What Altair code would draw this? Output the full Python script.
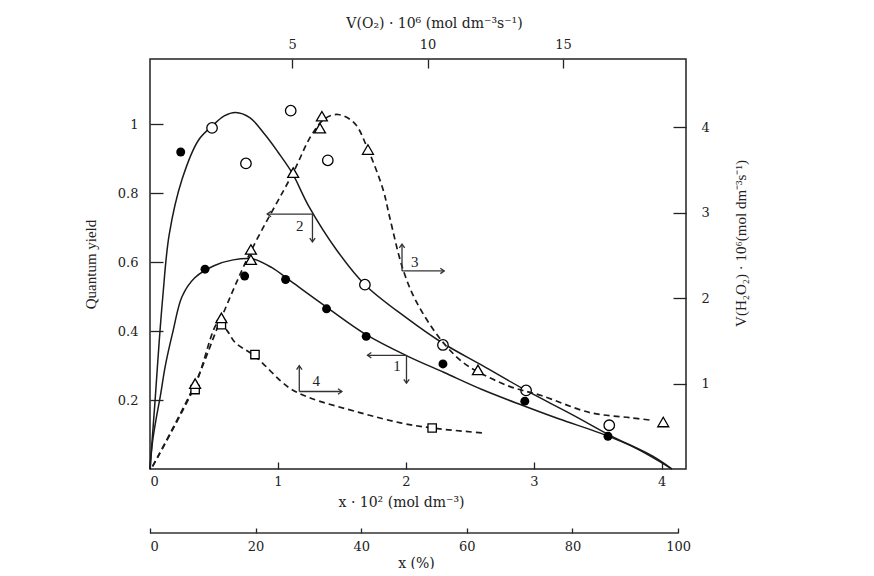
import altair as alt
import pandas as pd

# ---- data ----
# curve 1 (filled circles) : quantum yield vs x*10^2
c1_x = [0.24, 0.43, 0.74, 1.06, 1.38, 1.69, 2.29, 2.93, 3.58]
c1_y = [0.92, 0.58, 0.56, 0.55, 0.465, 0.385, 0.305, 0.197, 0.095]
fit1_x = [0, 0.02, 0.05, 0.08, 0.12, 0.18, 0.25, 0.35, 0.5, 0.65, 0.8, 0.95, 1.1, 1.38, 1.69, 2.0, 2.3, 2.6, 2.91, 3.2, 3.52, 3.8, 4.08]
fit1_y = [0, 0.08, 0.15, 0.21, 0.3, 0.4, 0.5, 0.555, 0.59, 0.607, 0.61, 0.585, 0.545, 0.47, 0.39, 0.33, 0.28, 0.23, 0.185, 0.145, 0.104, 0.06, 0.0]
# curve 2 (open circles)
c2_x = [0.485, 0.75, 1.10, 1.39, 1.68, 2.29, 2.94, 3.59]
c2_y = [0.99, 0.887, 1.04, 0.896, 0.535, 0.36, 0.228, 0.127]
fit2_x = [0, 0.02, 0.04, 0.07, 0.1, 0.15, 0.25, 0.38, 0.485, 0.58, 0.67, 0.78, 0.9, 1.0, 1.11, 1.245, 1.46, 1.68, 2.0, 2.29, 2.6, 2.94, 3.3, 3.6, 3.93, 4.08]
fit2_y = [0, 0.1, 0.2, 0.36, 0.5, 0.68, 0.84, 0.955, 0.995, 1.025, 1.035, 1.02, 0.97, 0.92, 0.86, 0.76, 0.635, 0.535, 0.44, 0.365, 0.3, 0.228, 0.158, 0.097, 0.037, 0.0]
# curve 3 (triangles) : V(H2O2) vs V(O2)
c3_v = [1.42, 2.39, 3.48, 3.48, 5.04, 6.03, 6.1, 7.8, 11.86, 18.7]
c3_r = [1.0, 1.77, 2.57, 2.45, 3.47, 3.99, 4.13, 3.74, 1.16, 0.55]
fit3_v = [-0.15, 1.42, 2.39, 3.48, 5.04, 5.7, 6.2, 6.7, 7.3, 7.8, 8.36, 8.6, 9.1, 9.6, 10.5, 11.3, 11.86, 13.0, 14.2, 16.0, 17.5, 18.3]
fit3_r = [0.03, 1.0, 1.77, 2.55, 3.47, 3.9, 4.1, 4.15, 4.05, 3.74, 3.27, 2.95, 2.33, 1.95, 1.51, 1.25, 1.14, 0.97, 0.86, 0.66, 0.6, 0.57]
# curve 4 (squares)
c4_v = [1.42, 2.39, 3.63, 10.17]
c4_r = [0.93, 1.69, 1.34, 0.48]
fit4_v = [-0.15, 1.42, 2.3, 2.6, 2.9, 3.63, 4.85, 5.6, 7.5, 9.0, 10.17, 12.1]
fit4_r = [0.03, 0.98, 1.72, 1.62, 1.48, 1.32, 0.96, 0.84, 0.66, 0.54, 0.48, 0.42]
# annotation arrows (in x*10^2 / quantum-yield units)
lab_text = ["1", "2", "3", "4"]
lab_x = [1.93, 1.17, 2.07, 1.30]
lab_y = [0.298, 0.705, 0.60, 0.254]
shaft_x = [1.70, 2.005, 0.916, 1.27, 1.97, 1.97, 1.167, 1.167]
shaft_x2 = [2.005, 2.005, 1.27, 1.27, 1.97, 2.30, 1.167, 1.50]
shaft_y = [0.33, 0.33, 0.74, 0.74, 0.575, 0.575, 0.225, 0.225]
shaft_y2 = [0.33, 0.249, 0.74, 0.659, 0.653, 0.575, 0.30, 0.225]
head_x = [1.70, 2.005, 0.916, 1.27, 1.97, 2.30, 1.167, 1.50]
head_y = [0.33, 0.249, 0.74, 0.659, 0.653, 0.575, 0.30, 0.225]
head_ang = [180, 90, 180, 90, 270, 0, 270, 0]
# axes
x_ticks = [0, 1, 2, 3, 4]
qy_ticks = [0.2, 0.4, 0.6, 0.8, 1.0]
vo2_ticks = [5, 10, 15]
vh_ticks = [1, 2, 3, 4]
pct_ticks = [0, 20, 40, 60, 80, 100]

XDOM = [0, 4.19]
YDOM = [0, 1.19]
VDOM = [-0.245, 19.54]
RDOM = [0, 4.8]
PDOM = [0, 101.5]

HF = "DejaVu Serif"
VF = "Liberation Serif"


def sc(d):
    return alt.Scale(domain=d, nice=False, zero=False)


fit12 = pd.concat([
    pd.DataFrame({"x": fit1_x, "y": fit1_y, "c": "1"}),
    pd.DataFrame({"x": fit2_x, "y": fit2_y, "c": "2"}),
])
fit34 = pd.concat([
    pd.DataFrame({"v": fit3_v, "r": fit3_r, "c": "3"}),
    pd.DataFrame({"v": fit4_v, "r": fit4_r, "c": "4"}),
])

ax_bottom = alt.Axis(orient="bottom", offset=-7, tickSize=7, domain=False, values=x_ticks,
                     format="d", labelPadding=6, grid=False, title="x · 10² (mol dm⁻³)",
                     titleX=251, titleY=40, titleBaseline="middle", titleAlign="center",
                     labelFont=HF, labelFontSize=13, titleFont=HF, titleFontSize=14)
ax_left = alt.Axis(orient="left", offset=-13, tickSize=13, domain=False, values=qy_ticks,
                   labelExpr="datum.value == 1 ? '1' : format(datum.value, '.1f')",
                   labelPadding=12, grid=False, title="Quantum yield",
                   titleX=-73, titleY=205, titleAngle=270, titleBaseline="middle", titleAlign="center",
                   labelFont=HF, labelFontSize=13, titleFont=VF, titleFontSize=15)
ax_top = alt.Axis(orient="top", offset=-9, tickSize=9, domain=False, values=vo2_ticks,
                  format="d", labelPadding=8, grid=False, title="V(O₂) · 10⁶ (mol dm⁻³s⁻¹)",
                  titleX=284, titleY=-45, titleBaseline="middle", titleAlign="center",
                  labelFont=HF, labelFontSize=13, titleFont=HF, titleFontSize=14)
ax_right = alt.Axis(orient="right", offset=-13, tickSize=13, domain=False, values=vh_ticks,
                    format="d", labelPadding=15, grid=False, title="V(H₂O₂) · 10⁶(mol dm⁻³s⁻¹)",
                    titleX=67, titleY=184, titleAngle=270, titleBaseline="middle", titleAlign="center",
                    labelFont=HF, labelFontSize=13, titleFont=VF, titleFontSize=15)
ax_pct = alt.Axis(orient="bottom", offset=59, tickSize=5, domain=False, values=pct_ticks,
                  format="d", labelPadding=7, grid=False, title="x (%)",
                  titleX=266, titleY=35, titleBaseline="middle", titleAlign="center",
                  labelFont=HF, labelFontSize=13, titleFont=HF, titleFontSize=14)

lines12 = alt.Chart(fit12).mark_line(color="#1a1a1a", strokeWidth=1.5, interpolate="catmull-rom").encode(
    x=alt.X("x:Q", scale=sc(XDOM), axis=ax_bottom),
    y=alt.Y("y:Q", scale=sc(YDOM), axis=ax_left),
    detail="c:N",
)
pts1 = alt.Chart(pd.DataFrame({"x": c1_x, "y": c1_y})).mark_point(
    shape="circle", filled=True, color="black", size=80, opacity=1).encode(
    x=alt.X("x:Q", scale=sc(XDOM), axis=None),
    y=alt.Y("y:Q", scale=sc(YDOM), axis=None),
)
pts2 = alt.Chart(pd.DataFrame({"x": c2_x, "y": c2_y})).mark_point(
    shape="circle", filled=True, fill="white", stroke="black", strokeWidth=1.3, size=110, opacity=1).encode(
    x=alt.X("x:Q", scale=sc(XDOM), axis=None),
    y=alt.Y("y:Q", scale=sc(YDOM), axis=None),
)
lines34 = alt.Chart(fit34).mark_line(color="#1a1a1a", strokeWidth=1.7, strokeDash=[6, 4],
                                     interpolate="catmull-rom").encode(
    x=alt.X("v:Q", scale=sc(VDOM), axis=ax_top),
    y=alt.Y("r:Q", scale=sc(RDOM), axis=ax_right),
    detail="c:N",
)
pts4 = alt.Chart(pd.DataFrame({"v": c4_v, "r": c4_r})).mark_point(
    shape="square", filled=True, fill="white", stroke="black", strokeWidth=1.3, size=70, opacity=1).encode(
    x=alt.X("v:Q", scale=sc(VDOM), axis=None),
    y=alt.Y("r:Q", scale=sc(RDOM), axis=None),
)
pts3 = alt.Chart(pd.DataFrame({"v": c3_v, "r": c3_r})).mark_point(
    shape="triangle-up", filled=True, fill="white", stroke="black", strokeWidth=1.3, size=120, opacity=1).encode(
    x=alt.X("v:Q", scale=sc(VDOM), axis=None),
    y=alt.Y("r:Q", scale=sc(RDOM), axis=None),
)
shafts = alt.Chart(pd.DataFrame({"x": shaft_x, "x2": shaft_x2, "y": shaft_y, "y2": shaft_y2})).mark_rule(
    color="#333", strokeWidth=1.3).encode(
    x=alt.X("x:Q", scale=sc(XDOM), axis=None), x2="x2:Q",
    y=alt.Y("y:Q", scale=sc(YDOM), axis=None), y2="y2:Q",
)
heads = alt.Chart(pd.DataFrame({"x": head_x, "y": head_y, "a": head_ang})).mark_point(
    shape="M-1,-0.7L0,0L-1,0.7", filled=False, color="#333", strokeWidth=1.3, size=60, opacity=1).encode(
    x=alt.X("x:Q", scale=sc(XDOM), axis=None),
    y=alt.Y("y:Q", scale=sc(YDOM), axis=None),
    angle=alt.Angle("a:Q", scale=None),
)
labels = alt.Chart(pd.DataFrame({"x": lab_x, "y": lab_y, "t": lab_text})).mark_text(
    font=VF, fontSize=15, color="#222").encode(
    x=alt.X("x:Q", scale=sc(XDOM), axis=None),
    y=alt.Y("y:Q", scale=sc(YDOM), axis=None),
    text="t:N",
)
pct = alt.Chart(pd.DataFrame({"p0": [pct_ticks[0]], "p1": [pct_ticks[-1]]})).mark_rule(
    color="#333", strokeWidth=1.3).encode(
    x=alt.X("p0:Q", scale=sc(PDOM), axis=ax_pct), x2="p1:Q",
    y=alt.value(474),
)

chart = alt.layer(lines12, pts1, pts2, lines34, pts4, pts3, shafts, heads, labels, pct).resolve_scale(
    x="independent", y="independent"
).properties(
    width=536, height=410,
    autosize=alt.AutoSizeParams(type="none"),
    padding={"left": 142, "top": 51, "right": 180, "bottom": 100},
    background="white",
).configure_view(stroke="#222", strokeWidth=1.5).configure_axis(
    tickColor="#222", tickWidth=1.3, labelColor="#222", titleColor="#222", titleFontWeight="normal"
)

chart.save("out.html", embed_options={"renderer": "svg", "actions": False})
